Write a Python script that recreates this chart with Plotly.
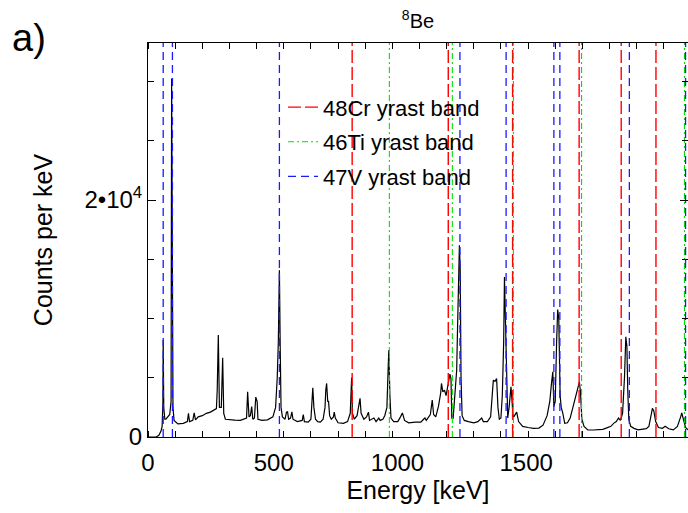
import plotly.graph_objects as go

# ---- spectrum ----
ENERGY = [0, 30, 40, 48, 52, 55, 56, 58, 62, 66, 80, 85, 87, 89, 90, 92, 96, 110, 130, 145, 149, 153,
          165, 170, 175, 185, 200, 215, 230, 245, 252, 255, 259, 263, 270, 275, 279, 285, 300, 320,
          340, 355, 363, 367, 372, 377, 382, 386, 392, 397, 402, 405, 420, 440, 460, 470, 476, 480,
          484, 487, 490, 495, 505, 510, 514, 518, 525, 530, 534, 550, 568, 572, 576, 590, 600, 604,
          607, 611, 617, 625, 635, 645, 652, 655, 658, 662, 665, 669, 675, 683, 686, 690, 700, 720,
          735, 745, 748, 750, 753, 760, 770, 777, 781, 785, 795, 805, 812, 816, 825, 832, 840, 850,
          855, 865, 872, 880, 884, 887, 891, 895, 905, 920, 930, 937, 945, 960, 985, 1005, 1015,
          1020, 1025, 1040, 1047, 1052, 1060, 1070, 1078, 1081, 1086, 1092, 1098, 1105, 1112, 1116,
          1119, 1124, 1130, 1137, 1140, 1147, 1150, 1153, 1157, 1165, 1180, 1200, 1215, 1225, 1229,
          1235, 1250, 1262, 1267, 1272, 1278, 1284, 1289, 1294, 1300, 1305, 1310, 1313, 1316, 1320,
          1325, 1330, 1337, 1341, 1345, 1350, 1358, 1365, 1380, 1400, 1420, 1440, 1455, 1470, 1480,
          1486, 1491, 1495, 1500, 1505, 1509, 1513, 1518, 1522, 1528, 1535, 1545, 1555, 1565, 1575,
          1583, 1589, 1593, 1598, 1606, 1620, 1640, 1660, 1675, 1685, 1695, 1705, 1715, 1725, 1733,
          1740, 1748, 1755, 1760, 1764, 1767, 1771, 1778, 1790, 1805, 1820, 1835, 1845, 1852, 1858,
          1863, 1870, 1880, 1895, 1905, 1918, 1935, 1950, 1962, 1966, 1972, 1980, 1989]
COUNTS = [0, 0, 150, 500, 900, 3000, 8180, 2500, 1500, 1500, 1900, 3000, 30260, 12000, 17200, 2500,
          1400, 1100, 1150, 1300, 2000, 1300, 1400, 2030, 1450, 1700, 1800, 2000, 2100, 2300, 2400,
          4000, 8600, 2500, 2500, 6690, 2000, 1500, 1450, 1420, 1400, 1500, 1600, 3820, 1700, 1800,
          2560, 1500, 1600, 3370, 3000, 1500, 1400, 1450, 1700, 2500, 5000, 8000, 14080, 7500, 2500,
          1700, 1500, 2100, 2130, 1500, 1600, 2130, 1500, 1300, 1400, 1900, 1300, 1250, 1500, 3000,
          4160, 2500, 1500, 1300, 1250, 1500, 2500, 4000, 4520, 3000, 3000, 1800, 1500, 1700, 2100,
          1600, 1200, 1150, 1300, 2000, 3500, 5030, 2000, 1500, 1800, 2800, 3260, 2000, 1500, 1700,
          2100, 1400, 1500, 1600, 1300, 1600, 1400, 1500, 1800, 2500, 5400, 7330, 3500, 1600, 1300,
          1300, 1700, 2030, 1400, 1200, 1250, 1250, 1500, 1600, 1400, 1900, 3120, 1900, 1700, 2600,
          3700, 4520, 3800, 3960, 3500, 4600, 5310, 4900, 1600, 1600, 3500, 5650, 9000, 16190, 14080,
          5000, 1800, 1400, 1300, 1200, 1300, 1500, 1600, 1300, 1300, 1700, 3500, 4800, 4700, 4930,
          2500, 1500, 1600, 3500, 8000, 13510, 10400, 5000, 1600, 2500, 4240, 3000, 1600, 1800, 2100,
          1300, 900, 800, 730, 750, 1000, 1800, 3000, 4500, 5510, 2560, 3000, 8000, 10760, 10000,
          3500, 2500, 2000, 1150, 1200, 1600, 2500, 3500, 4300, 4660, 3800, 1500, 900, 600, 590, 600,
          650, 730, 800, 900, 1150, 1300, 1600, 1400, 2000, 5000, 8460, 7630, 4000, 1490, 900, 730,
          600, 650, 700, 900, 1600, 2420, 2200, 1300, 800, 730, 900, 700, 600, 900, 1700, 2030, 1500,
          800, 600]

# ---- yrast-band transition energies (keV) ----
CR48_LINES = [752, 1106, 1343, 1588, 1743, 1871]
TI46_LINES = [889, 1121, 1346, 1597, 1976]
V47_LINES = [56, 90, 484, 1149, 1319, 1495, 1517, 1773, 1980]

# ---- axis text ----
X_TICK_TEXT = ["0", "500", "1000", "1500"]
Y_TICK_VALS = [0, 20000]
Y_TICK_TEXT = ["0", "2•10<sup>4</sup>"]

X_MAX = 1989
Y_MAX = 33250
FONT = "Liberation Sans, Arial, sans-serif"


def vlines(energies):
    xs, ys = [], []
    for e in energies:
        xs += [e, e, None]
        ys += [0, Y_MAX, None]
    return xs, ys


fig = go.Figure()
fig.add_trace(go.Scatter(x=ENERGY, y=COUNTS, mode="lines",
                         line=dict(color="black", width=1.2), showlegend=False))

for name, en, col, dash, w, grp in [
    ("48Cr yrast band", CR48_LINES, "#ff0000", "13px,4px", 1.4, "a"),
    ("46Ti yrast band", TI46_LINES, "#00e000", "6px,3px,2px,3px", 1.1, "b"),
    ("47V yrast band", V47_LINES, "#1a1aff", "8px,5px", 1.3, "c"),
]:
    xs, ys = vlines(en)
    fig.add_trace(go.Scatter(x=xs, y=ys, mode="lines", name=name, legendgroup=grp,
                             line=dict(color=col, dash=dash, width=w)))

# label positions as printed in the reference figure
X_TICK_POS = [0, 463, 919, 1393]

fig.update_layout(
    width=688, height=513,
    margin=dict(l=148, r=0, t=43, b=76),
    plot_bgcolor="white", paper_bgcolor="white",
    font=dict(family=FONT, size=24, color="black"),
    title=dict(text="<sup>8</sup>Be", x=0.5, xref="paper", xanchor="center",
               y=1 - 21 / 513, yanchor="middle", font=dict(family=FONT, size=20)),
    legend=dict(x=0.25, y=0.89, xanchor="left", yanchor="top", bgcolor="rgba(0,0,0,0)",
                font=dict(family=FONT, size=22), tracegroupgap=3, itemwidth=30),
    xaxis=dict(range=[0, X_MAX], showgrid=False, zeroline=False,
               showline=True, linecolor="black", linewidth=1, mirror="ticks",
               tickmode="array", tickvals=X_TICK_POS, ticktext=X_TICK_TEXT,
               ticks="", ticklabelstandoff=4,
               minor=dict(tickmode="linear", tick0=0, dtick=100, ticks="inside",
                          ticklen=6, tickcolor="black"),
               title=dict(text="Energy [keV]", standoff=4, font=dict(family=FONT, size=25))),
    yaxis=dict(range=[0, Y_MAX], showgrid=False, zeroline=False,
               showline=True, linecolor="black", linewidth=1, mirror="ticks",
               tickmode="array", tickvals=Y_TICK_VALS, ticktext=Y_TICK_TEXT,
               ticks="inside", ticklen=8, tickcolor="black",
               minor=dict(tickmode="linear", tick0=0, dtick=5000, ticks="inside",
                          ticklen=6, tickcolor="black"),
               title=dict(text="Counts per keV", standoff=24, font=dict(family=FONT, size=25))),
    annotations=[dict(text="a)", xref="paper", yref="paper", x=-0.255, y=1.012,
                      xanchor="left", yanchor="middle", showarrow=False,
                      font=dict(family=FONT, size=38))],
)

fig.write_html("out.html")
